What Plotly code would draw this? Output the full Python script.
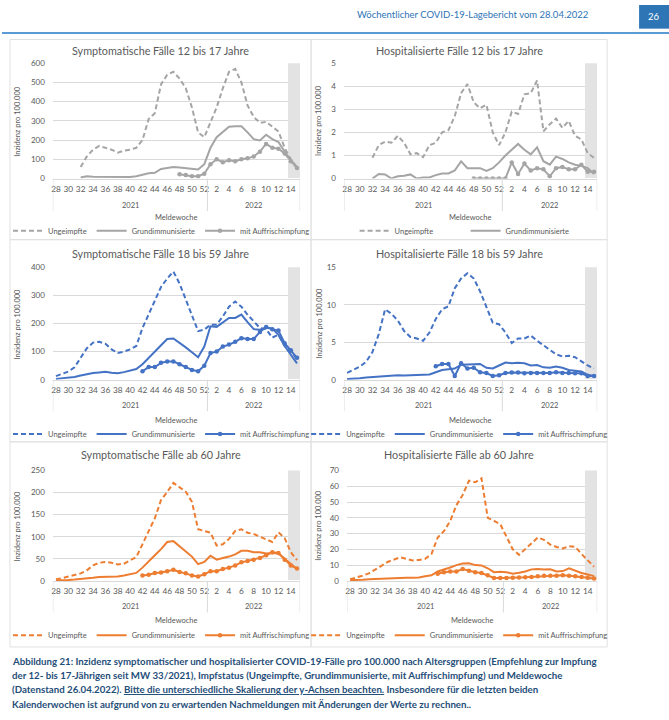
import plotly.graph_objects as go

W, H = 669, 720
FONT = "Lato"

# ---------------- data ----------------
WEEKS_2021 = ["28", "29", "30", "31", "32", "33", "34", "35", "36", "37", "38", "39", "40",
              "41", "42", "43", "44", "45", "46", "47", "48", "49", "50", "51", "52"]
WEEKS_2022 = ["1", "2", "3", "4", "5", "6", "7", "8", "9", "10", "11", "12", "13", "14", "15"]
WEEKS = WEEKS_2021 + WEEKS_2022
YEAR_LABELS = ["2021", "2022"]
TICK_WEEKS = ["28", "30", "32", "34", "36", "38", "40", "42", "44", "46", "48", "50", "52",
              "2", "4", "6", "8", "10", "12", "14"]
SHADED_WEEKS = ["14", "15"]
SERIES_NAMES = ["Ungeimpfte", "Grundimmunisierte", "mit Auffrischimpfung"]
N = None

# Symptomatische Fälle 12 bis 17 Jahre
SYM_12_UNG = [N, N, N, N, 60, 115, 150, 170, 160, 150, 135, 145, 150, 160, 200, 310, 340, 490, 540, 555, 520, 470, 370, 240, 215,
              290, 370, 470, 555, 570, 500, 380, 320, 290, 295, 270, 245, 160, 100, 55]
SYM_12_GRD = [N, N, N, N, 5, 12, 10, 10, 10, 10, 8, 10, 8, 12, 18, 28, 30, 50, 55, 60, 58, 55, 50, 47, 75,
              160, 215, 240, 270, 272, 272, 240, 205, 198, 228, 205, 190, 140, 95, 60]
SYM_12_AUF = [N, N, N, N, N, N, N, N, N, N, N, N, N, N, N, N, N, N, N, N, 22, 18, 12, 12, 25,
              75, 100, 85, 95, 90, 100, 105, 115, 140, 180, 160, 155, 130, 90, 55]

# Hospitalisierte Fälle 12 bis 17 Jahre
HOS_12_UNG = [N, N, N, N, 0.9, 1.45, 1.6, 1.55, 1.85, 1.55, 1.05, 1.1, 0.93, 1.45, 1.55, 2.0, 2.1, 2.7, 3.7, 4.1, 3.3, 3.05, 3.2, 2.0, 1.45,
              2.0, 2.9, 2.8, 3.65, 3.7, 4.25, 2.05, 2.35, 2.6, 2.2, 2.5, 1.85, 1.7, 1.1, 0.9]
HOS_12_GRD = [N, N, N, N, 0.0, 0.2, 0.18, 0.0, 0.1, 0.12, 0.18, 0.0, 0.05, 0.05, 0.15, 0.22, 0.22, 0.35, 0.75, 0.45, 0.45, 0.45, 0.33, 0.45, 0.7,
              1.0, 1.25, 1.5, 1.25, 1.05, 1.35, 0.75, 0.6, 0.95, 0.85, 0.7, 0.6, 0.55, 0.45, 0.2]
HOS_12_AUF = [N, N, N, N, N, N, N, N, N, N, N, N, N, N, N, N, N, N, N, N, 0, 0, 0, 0, 0,
              0, 0.7, 0.2, 0.65, 0.35, 0.45, 0.4, 0.1, 0.45, 0.5, 0.4, 0.4, 0.6, 0.3, 0.3]

# Symptomatische Fälle 18 bis 59 Jahre
SYM_18_UNG = [13, 21, 29, 44, 79, 112, 132, 135, 128, 108, 95, 100, 108, 120, 184, 231, 278, 330, 360, 385, 342, 284, 225, 173, 178,
              196, 196, 225, 260, 278, 260, 231, 208, 184, 180, 150, 160, 120, 100, 75]
SYM_18_GRD = [3, 5, 6, 10, 15, 20, 24, 26, 28, 25, 23, 27, 32, 38, 55, 78, 98, 122, 145, 147, 132, 115, 98, 80, 118,
              190, 188, 205, 220, 220, 232, 205, 180, 178, 185, 182, 160, 120, 88, 58]
SYM_18_AUF = [N, N, N, N, N, N, N, N, N, N, N, N, N, N, 30, 45, 45, 60, 65, 65, 55, 45, 35, 30, 50,
              95, 100, 118, 125, 135, 148, 145, 145, 170, 188, 180, 175, 130, 105, 78]

# Hospitalisierte Fälle 18 bis 59 Jahre
HOS_18_UNG = [0.9, 1.3, 1.75, 2.4, 3.7, 6.1, 9.4, 8.8, 7.9, 6.5, 5.7, 5.5, 5.2, 6.3, 8.1, 9.4, 9.8, 12.2, 13.5, 14.2, 13.5, 11.8, 9.6, 7.6, 7.4,
              6.3, 4.9, 5.5, 5.5, 5.9, 5.2, 4.6, 3.9, 3.4, 3.1, 3.2, 3.0, 2.4, 1.9, 1.5]
HOS_18_GRD = [0.1, 0.1, 0.2, 0.3, 0.35, 0.45, 0.55, 0.6, 0.6, 0.55, 0.6, 0.65, 0.6, 0.7, 1.0, 1.3, 1.4, 1.5, 2.0, 2.0, 2.0, 2.1, 1.6, 1.5, 1.9,
              2.3, 2.2, 2.25, 2.2, 1.9, 1.95, 1.65, 1.6, 1.75, 1.6, 1.3, 1.2, 1.1, 0.65, 0.5]
HOS_18_AUF = [N, N, N, N, N, N, N, N, N, N, N, N, N, N, 1.8, 2.1, 2.1, 0.5, 2.2, 1.5, 1.6, 1.0, 0.9, 0.5, 0.6,
              0.9, 0.95, 0.95, 0.85, 0.9, 0.9, 0.9, 0.9, 1.0, 0.9, 0.9, 0.85, 0.85, 0.5, 0.5]

# Symptomatische Fälle ab 60 Jahre
SYM_60_UNG = [4, 6, 10, 13, 17, 24, 35, 41, 43, 41, 37, 39, 46, 54, 83, 113, 142, 183, 201, 222, 213, 202, 179, 117, 113,
              109, 80, 83, 95, 113, 117, 109, 106, 100, 93, 88, 110, 97, 65, 47]
SYM_60_GRD = [1, 1, 2, 3, 4, 5, 7, 9, 9, 10, 10, 12, 15, 18, 30, 45, 58, 72, 88, 90, 78, 68, 55, 38, 43,
              57, 48, 52, 55, 60, 68, 68, 65, 65, 62, 63, 62, 50, 38, 27]
SYM_60_AUF = [N, N, N, N, N, N, N, N, N, N, N, N, N, N, 12, 14, 18, 19, 22, 25, 20, 17, 12, 10, 15,
              22, 22, 27, 30, 35, 42, 45, 48, 52, 58, 65, 63, 48, 35, 28]

# Hospitalisierte Fälle ab 60 Jahre
HOS_60_UNG = [1, 2, 3.3, 4.8, 7, 9.5, 12, 13.5, 15, 14, 13, 13.3, 14, 17, 27.5, 31.5, 38, 48, 54.5, 63.5, 62.5, 65, 40, 38, 36,
              28, 20, 16.5, 20, 24, 27.5, 26, 23, 21.5, 20.5, 22, 21.5, 17, 13, 9]
HOS_60_GRD = [0.5, 0.5, 0.7, 1, 1.2, 1.5, 1.8, 2, 2, 2, 2, 2.2, 3, 3.5, 6, 7.5, 8.5, 10, 11, 11.2, 10, 9.8, 8, 5.5, 5.8,
              5.5, 4.5, 5.2, 6, 7.3, 7.5, 7.2, 7.3, 6, 6.2, 8, 6.5, 5, 4, 3]
HOS_60_AUF = [N, N, N, N, N, N, N, N, N, N, N, N, N, N, 4.5, 5.5, 6, 6, 7.5, 6.5, 5.5, 5, 3.5, 1.8, 1.8,
              1.8, 2, 2.2, 2.3, 2.5, 3, 3.2, 3.3, 3.3, 3.5, 3.3, 3, 2.5, 2, 1.5]

TITLES = ["Symptomatische Fälle 12 bis 17 Jahre", "Hospitalisierte Fälle 12 bis 17 Jahre",
          "Symptomatische Fälle 18 bis 59 Jahre", "Hospitalisierte Fälle 18 bis 59 Jahre",
          "Symptomatische Fälle ab 60 Jahre", "Hospitalisierte Fälle ab 60 Jahre"]
SERIES = [(SYM_12_UNG, SYM_12_GRD, SYM_12_AUF), (HOS_12_UNG, HOS_12_GRD, HOS_12_AUF),
          (SYM_18_UNG, SYM_18_GRD, SYM_18_AUF), (HOS_18_UNG, HOS_18_GRD, HOS_18_AUF),
          (SYM_60_UNG, SYM_60_GRD, SYM_60_AUF), (HOS_60_UNG, HOS_60_GRD, HOS_60_AUF)]
Y_MAX = [600, 5, 400, 15, 250, 70]
Y_DTICK = [100, 1, 100, 5, 50, 10]
LEGEND_ITEMS = [3, 2, 3, 3, 3, 3]

HEADER = "Wöchentlicher COVID-19-Lagebericht vom 28.04.2022"
PAGE_NO = "26"
CAPTION = [
    "Abbildung 21: Inzidenz symptomatischer und hospitalisierter COVID-19-Fälle pro 100.000 nach Altersgruppen (Empfehlung zur Impfung",
    "der 12- bis 17-Jährigen seit MW 33/2021), Impfstatus (Ungeimpfte, Grundimmunisierte, mit Auffrischimpfung) und Meldewoche",
    "(Datenstand 26.04.2022). <u>Bitte die unterschiedliche Skalierung der y-Achsen beachten.</u> Insbesondere für die letzten beiden",
    "Kalenderwochen ist aufgrund von zu erwartenden Nachmeldungen mit Änderungen der Werte zu rechnen..",
]

# ---------------- styles / geometry ----------------
ROW_COLORS = ["#A5A5A5", "#4472C4", "#ED7D31"]
GRID = "#D9D9D9"
TXT = "#595959"
SHADE = "#E3E3E3"

def px(x):
    return x / W

def py(y):
    return 1 - y / H

ROWS = [
    dict(top=59, bot=176, title=46, year=203, divb=209, xt=215, leg=229, b0=35, b1=238),
    dict(top=266, bot=380, title=252, year=406, divb=412, xt=421, leg=435, b0=238, b1=443),
    dict(top=472, bot=584, title=456, year=610, divb=616, xt=624, leg=639, b0=443, b1=651),
]
COLS = [
    dict(l=51, r=299, yt=16, b0=8, b1=310, legc=160),
    dict(l=343, r=597, yt=318, b0=310, b1=607, legc=459),
]

fig = go.Figure()
annotations = []
shapes = []
layout = {}

for i in range(6):
    n = i + 1
    row = ROWS[i // 2]
    col = COLS[i % 2]
    color = ROW_COLORS[i // 2]
    sfx = "" if n == 1 else str(n)
    xa, ya, leg = "x" + sfx, "y" + sfx, "legend" + sfx
    left = col["l"] + (3 if (i == 5) else 0)

    fig.add_trace(go.Bar(x=SHADED_WEEKS, y=[Y_MAX[i]] * len(SHADED_WEEKS), xaxis=xa, yaxis=ya,
                         marker=dict(color=SHADE, line=dict(width=0)), showlegend=False,
                         hoverinfo="skip"))
    ung, grd, auf = SERIES[i]
    fig.add_trace(go.Scatter(x=WEEKS, y=ung, name=SERIES_NAMES[0], mode="lines", xaxis=xa, yaxis=ya,
                             line=dict(color=color, width=2, dash="5px,3px"), legend=leg))
    fig.add_trace(go.Scatter(x=WEEKS, y=grd, name=SERIES_NAMES[1], mode="lines", xaxis=xa, yaxis=ya,
                             line=dict(color=color, width=2), legend=leg))
    fig.add_trace(go.Scatter(x=WEEKS, y=auf, name=SERIES_NAMES[2], mode="lines+markers", xaxis=xa, yaxis=ya,
                             line=dict(color=color, width=2), marker=dict(color=color, size=4.5),
                             legend=leg, showlegend=LEGEND_ITEMS[i] > 2))

    layout["xaxis" + sfx] = dict(
        domain=[px(left), px(col["r"])], anchor=ya, type="category",
        categoryorder="array", categoryarray=WEEKS, range=[-0.5, len(WEEKS) - 0.5],
        tickmode="array", tickvals=TICK_WEEKS, ticktext=TICK_WEEKS,
        tickfont=dict(family=FONT, size=8.3, color=TXT), ticks="", ticklabelstandoff=2,
        showgrid=False, showline=True, linecolor=GRID, linewidth=1, zeroline=False, fixedrange=True,
    )
    layout["yaxis" + sfx] = dict(
        domain=[py(row["bot"]), py(row["top"])], anchor=xa, range=[0, Y_MAX[i]], dtick=Y_DTICK[i],
        tickfont=dict(family=FONT, size=8, color=TXT), ticks="", ticklabelstandoff=7,
        showgrid=True, gridcolor=GRID, gridwidth=1, zeroline=False, showline=False, fixedrange=True,
        tickformat="d",
    )

    shapes.append(dict(type="rect", xref="paper", yref="paper", x0=px(col["b0"]), x1=px(col["b1"]),
                       y0=py(row["b1"]), y1=py(row["b0"]), line=dict(color="#E1E1E1", width=1), layer="below"))
    annotations.append(dict(text=TITLES[i], xref="paper", yref="paper", x=px((col["b0"] + col["b1"]) / 2),
                            y=py(row["title"]), xanchor="center", yanchor="middle", showarrow=False,
                            font=dict(family=FONT, size=10.8, color=TXT)))
    annotations.append(dict(text="Inzidenz pro 100.000", xref="paper", yref="paper", x=px(col["yt"]),
                            y=py((row["top"] + row["bot"]) / 2), textangle=-90, xanchor="center",
                            yanchor="middle", showarrow=False, font=dict(family=FONT, size=7.5, color=TXT)))
    annotations.append(dict(text="Meldewoche", xref="paper", yref="paper", x=px((left + col["r"]) / 2),
                            y=py(row["xt"]), xanchor="center", yanchor="middle", showarrow=False,
                            font=dict(family=FONT, size=7.5, color=TXT)))
    groups = [WEEKS_2021, WEEKS_2022]
    start = 0
    for label, g in zip(YEAR_LABELS, groups):
        annotations.append(dict(text=label, xref=xa, yref="paper", x=start + (len(g) - 1) / 2,
                                y=py(row["year"]), xanchor="center", yanchor="middle", showarrow=False,
                                font=dict(family=FONT, size=7.5, color=TXT)))
        shapes.append(dict(type="line", xref=xa, yref="paper", x0=start - 0.5, x1=start - 0.5,
                           y0=py(row["bot"]), y1=py(row["divb"]), line=dict(color=GRID, width=1)))
        start += len(g)
    shapes.append(dict(type="line", xref=xa, yref="paper", x0=start - 0.5, x1=start - 0.5,
                       y0=py(row["bot"]), y1=py(row["divb"]), line=dict(color=GRID, width=1)))

    two = LEGEND_ITEMS[i] == 2
    layout[leg] = dict(orientation="h", x=px(col["legc"] + (6 if two else 0)), y=py(row["leg"]),
                       xanchor="center", yanchor="middle", font=dict(family=FONT, size=7.5, color=TXT),
                       bgcolor="rgba(0,0,0,0)", itemwidth=30, tracegroupgap=0,
                       entrywidth=66 if two else 0, entrywidthmode="pixels")

annotations.append(dict(text=HEADER, xref="paper", yref="paper", x=px(472), y=py(10), xanchor="center",
                        yanchor="middle", showarrow=False, font=dict(family=FONT, size=9.5, color="#2E74B5")))
shapes.append(dict(type="rect", xref="paper", yref="paper", x0=px(639), x1=px(669), y0=py(24), y1=py(0),
                   fillcolor="#2E75B6", line=dict(width=0)))
annotations.append(dict(text=PAGE_NO, xref="paper", yref="paper", x=px(654), y=py(12), xanchor="center",
                        yanchor="middle", showarrow=False, font=dict(family=FONT, size=9.5, color="white")))
shapes.append(dict(type="line", xref="paper", yref="paper", x0=0, x1=1, y0=py(28.5), y1=py(28.5),
                   line=dict(color="#5B9BD5", width=2)))

for k, line in enumerate(CAPTION):
    annotations.append(dict(text="<b>" + line + "</b>", xref="paper", yref="paper", x=px(8),
                            y=py(665 + k * 14.5), xanchor="left", yanchor="middle", showarrow=False,
                            font=dict(family=FONT, size=9.7, color="#1F4E79")))

fig.update_layout(
    width=W, height=H, margin=dict(l=0, r=0, t=0, b=0),
    paper_bgcolor="white", plot_bgcolor="white", bargap=0,
    annotations=annotations, shapes=shapes, showlegend=True,
    **layout,
)

fig.write_html("out.html", config={"displayModeBar": False},
               post_script="document.body.style.margin='0px';")
